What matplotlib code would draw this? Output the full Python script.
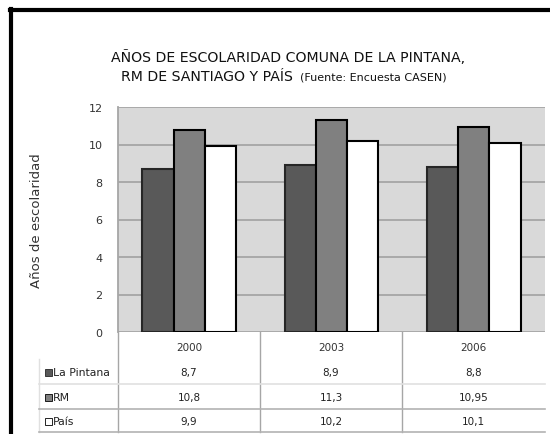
import numpy as np
import matplotlib
matplotlib.use('Agg')
import matplotlib.pyplot as plt
from matplotlib.patches import Rectangle
from matplotlib.lines import Line2D

years = ['2000', '2003', '2006']
series = ['La Pintana', 'RM', 'País']
la_pintana = [8.7, 8.9, 8.8]
rm = [10.8, 11.3, 10.95]
pais = [9.9, 10.2, 10.1]
table_text = [['8,7', '8,9', '8,8'],
              ['10,8', '11,3', '10,95'],
              ['9,9', '10,2', '10,1']]
colors = ['#595959', '#808080', '#ffffff']
edges = ['#262626', '#000000', '#000000']

W, H = 550, 435
fig = plt.figure(figsize=(W / 100, H / 100), dpi=100)
plt.rcParams['font.family'] = ['DejaVu Sans']


def fx(x):
    return x / W


def fy(y):
    return 1 - y / H


# plot area in pixel units of the reference
left, right, top, bottom = 118, 545, 108, 333
ax = fig.add_axes([fx(left), fy(bottom), fx(right - left), (bottom - top) / H])
ax.set_facecolor('#d9d9d9')

x = np.arange(len(years))
bw = 0.22
for i, vals in enumerate([la_pintana, rm, pais]):
    ax.bar(x + (i - 1) * bw, vals, bw, color=colors[i], edgecolor=edges[i],
           linewidth=1.5, zorder=3)

ax.set_xlim(-0.5, 2.5)
ax.set_ylim(0, 12)
ax.set_yticks(range(0, 13, 2))
ax.set_xticks([])
ax.yaxis.grid(True, color='#a6a6a6', linewidth=1.3, zorder=0)
ax.tick_params(axis='y', length=0, labelsize=8, colors='#333333', pad=11)
for s in ['top', 'right', 'bottom']:
    ax.spines[s].set_visible(False)
ax.spines['left'].set_color('#a6a6a6')
ax.spines['left'].set_linewidth(1.3)
ax.set_ylabel('Años de escolaridad', fontsize=9.5, color='#333333')
ax.yaxis.set_label_coords(fx(43 - left) / fx(right - left), 0.5)

# title
fig.text(fx(288), fy(58), 'AÑOS DE ESCOLARIDAD COMUNA DE LA PINTANA,',
         ha='center', va='center', fontsize=10.2, color='#111111')
fig.text(fx(121), fy(77), 'RM DE SANTIAGO Y PAÍS', ha='left', va='center',
         fontsize=10.2, color='#111111')
fig.text(fx(300), fy(77), '(Fuente: Encuesta CASEN)', ha='left', va='center',
         fontsize=8, color='#111111')

# data table below the axis
col_edges = [left, 260, 402, right]
col_centers = [(col_edges[k] + col_edges[k + 1]) / 2 for k in range(3)]
row_y = [373, 398, 422]
for k, yr in enumerate(years):
    fig.text(fx(col_centers[k]), fy(348), yr, ha='center', va='center',
             fontsize=7.5, color='#333333')
for r, name in enumerate(series):
    fig.patches.append(Rectangle((fx(45), fy(row_y[r]) - 3.5 / H), 7 / W, 7 / H,
                                 transform=fig.transFigure, facecolor=colors[r],
                                 edgecolor=edges[r], linewidth=0.6))
    fig.text(fx(53), fy(row_y[r]), name, ha='left', va='center',
             fontsize=7.8, color='#222222')
    for k in range(3):
        fig.text(fx(col_centers[k]), fy(row_y[r]), table_text[r][k],
                 ha='center', va='center', fontsize=7.5, color='#222222')

for xe in col_edges[:-1]:
    fig.lines.append(Line2D([fx(xe), fx(xe)], [fy(333), fy(433)],
                            transform=fig.transFigure, color='#a6a6a6', lw=1))
fig.lines.append(Line2D([fx(39), fx(39)], [fy(360), fy(433)],
                        transform=fig.transFigure, color='#e0e0e0', lw=1))
for yl, c in [(385, '#e0e0e0'), (410, '#b3b3b3'), (433, '#b3b3b3')]:
    fig.lines.append(Line2D([fx(39), fx(right)], [fy(yl), fy(yl)],
                            transform=fig.transFigure, color=c, lw=1.2))

# outer frame (top and left)
fig.lines.append(Line2D([fx(10), fx(W)], [fy(11), fy(11)],
                        transform=fig.transFigure, color='black', lw=3))
fig.lines.append(Line2D([fx(11), fx(11)], [fy(10), fy(H)],
                        transform=fig.transFigure, color='black', lw=3))

fig.savefig('out.png', dpi=100)
